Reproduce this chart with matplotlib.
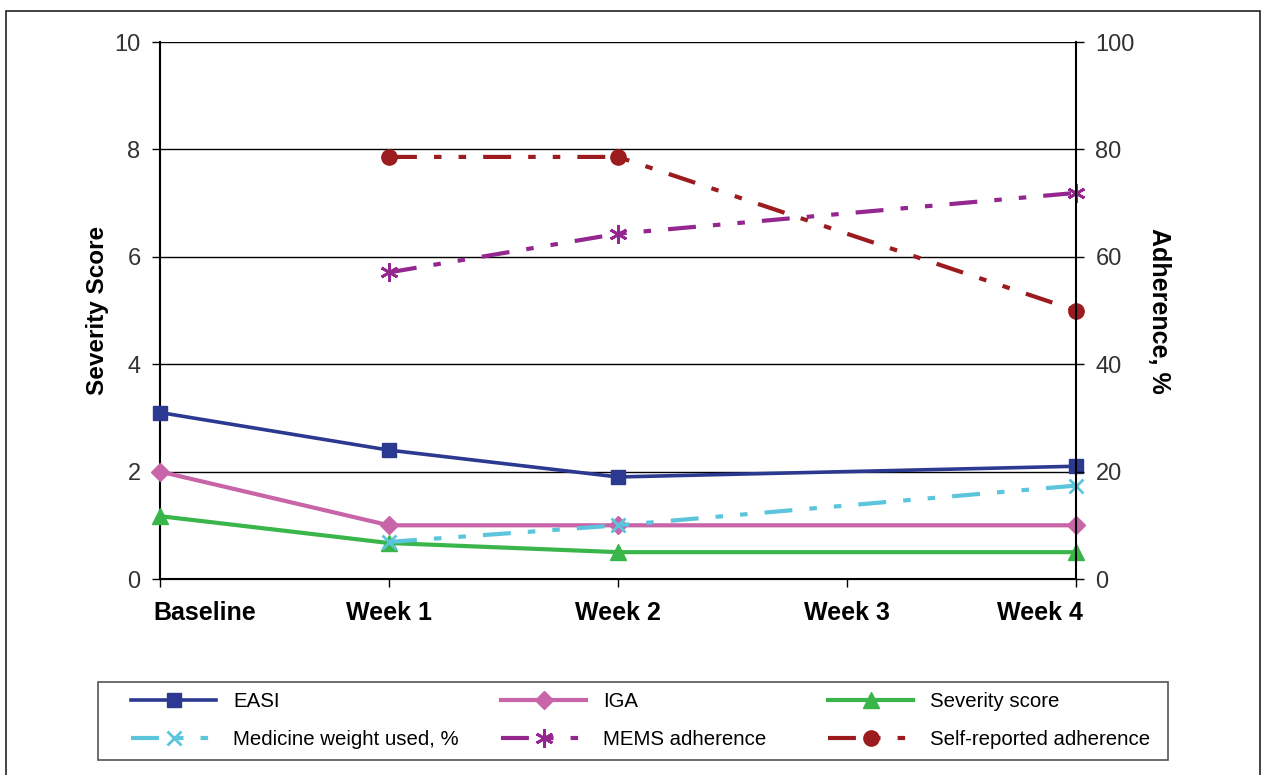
import numpy as np
import matplotlib
matplotlib.use('Agg')
import matplotlib.pyplot as plt
from matplotlib.patches import Rectangle
from matplotlib.transforms import ScaledTranslation

plt.rcParams['font.family'] = ['Liberation Sans', 'DejaVu Sans']

# data (None = not measured)
visits = ['Baseline', 'Week 1', 'Week 2', 'Week 3', 'Week 4']
easi = [3.1, 2.4, 1.9, None, 2.1]
iga = [2.0, 1.0, 1.0, None, 1.0]
severity = [1.17, 0.67, 0.5, None, 0.5]
medicine_weight = [None, 6.9, 10.0, None, 17.4]
mems_adherence = [None, 57.1, 64.3, None, 71.9]
self_reported = [None, 78.6, 78.6, None, 50.0]


def clean(vals):
    x = [i for i, v in enumerate(vals) if v is not None]
    y = [v for v in vals if v is not None]
    return x, y


fig = plt.figure(figsize=(12.61, 7.75), dpi=100)
ax = fig.add_axes([0.1269, 0.2529, 0.7264, 0.6929])
ax2 = ax.twinx()

dashdotdot = (6.7, 4.1, 1.8, 4.1, 1.8, 4.1)

# left axis series
h_easi, = ax.plot(*clean(easi), color='#2B3990', lw=2.6, marker='s', ms=10,
                  label='EASI', zorder=5, clip_on=False)
h_iga, = ax.plot(*clean(iga), color='#C864A8', lw=3, marker='D', ms=9,
                 label='IGA', zorder=5, clip_on=False)
h_sev, = ax.plot(*clean(severity), color='#39B54A', lw=3, marker='^', ms=11,
                 label='Severity score', zorder=5, clip_on=False)

# right axis series
h_med, = ax2.plot(*clean(medicine_weight), color='#5BC5DC', lw=3, marker='x',
                  ms=10, mew=2, dashes=dashdotdot, clip_on=False,
                  label='Medicine weight used, %')
h_mems, = ax2.plot(*clean(mems_adherence), color='#93278F', lw=3, marker=(6, 2, 0),
                   ms=13, mew=2, dashes=dashdotdot, clip_on=False,
                   label='MEMS adherence')
h_self, = ax2.plot(*clean(self_reported), color='#9B1B1E', lw=3, marker='o',
                   ms=11, dashes=dashdotdot, clip_on=False,
                   label='Self-reported adherence')

ax.set_xlim(0, 4)
ax.set_ylim(0, 10)
ax2.set_ylim(0, 100)
ax.set_yticks(np.arange(0, 11, 2))
ax2.set_yticks(np.arange(0, 101, 20))
ax.set_xticks(range(len(visits)))
ax.set_xticklabels(visits, fontsize=18, fontweight='bold')

ax.yaxis.grid(True, color='black', lw=1)
ax.set_axisbelow(True)

for a in (ax, ax2):
    a.spines['top'].set_visible(False)
    a.tick_params(axis='y', labelsize=17, labelcolor='#333333', length=6,
                  width=1, pad=8)
ax.tick_params(axis='x', length=6, width=1, pad=10)
ax.spines['right'].set_visible(False)
ax2.spines['left'].set_visible(False)
for s in ('left', 'bottom'):
    ax.spines[s].set_linewidth(1.5)
ax2.spines['right'].set_linewidth(1.5)

# end labels kept inside the plot width, like the original
xl = ax.get_xticklabels()
xl[0].set_horizontalalignment('left')
xl[0].set_transform(xl[0].get_transform() + ScaledTranslation(-0.07, 0, fig.dpi_scale_trans))
xl[-1].set_horizontalalignment('right')
xl[-1].set_transform(xl[-1].get_transform() + ScaledTranslation(0.07, 0, fig.dpi_scale_trans))

ax.set_ylabel('Severity Score', fontsize=17.5, fontweight='bold', labelpad=4)
ax2.set_ylabel('Adherence, %', fontsize=18, fontweight='bold', rotation=-90,
               labelpad=26)

# legend: three columns with even spacing, shared frame
W, H = 1261.0, 775.0
columns = [[h_easi, h_med], [h_iga, h_mems], [h_sev, h_self]]
col_x = [125, 495, 822]
for hs, cx in zip(columns, col_x):
    lg = fig.legend(handles=hs, loc='upper left',
                    bbox_to_anchor=(cx / W, 1 - 686 / H), fontsize=14.7,
                    handlelength=4.16, handletextpad=0.85, labelspacing=0.93,
                    frameon=False, borderpad=0.3, borderaxespad=0)
    lg._legend_box.align = 'left'

fig.patches.append(Rectangle((98 / W, 1 - 760 / H), 1070 / W, 78 / H,
                             transform=fig.transFigure, fill=False,
                             edgecolor='#555555', lw=1.2))

# outer border
fig.patches.append(Rectangle((0.005, -0.01), 0.994, 0.9963, transform=fig.transFigure,
                             fill=False, edgecolor='#222222', lw=1.2))

fig.savefig('out.png', dpi=100)
